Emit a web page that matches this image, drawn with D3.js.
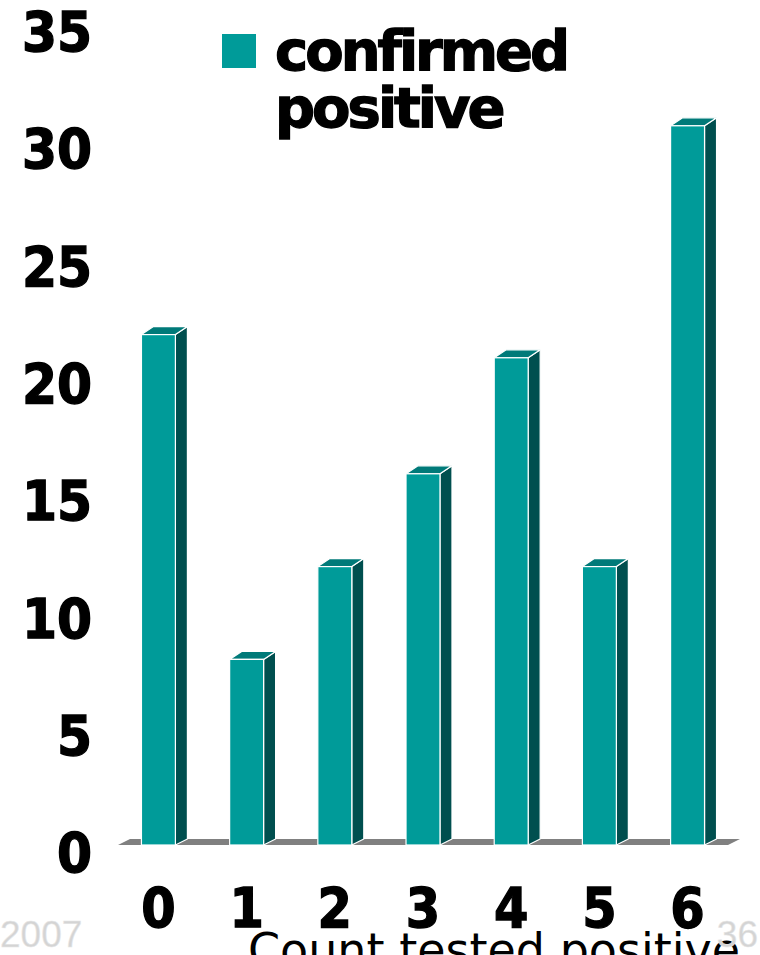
<!DOCTYPE html>
<html>
<head>
<meta charset="utf-8">
<script src="https://cdn.jsdelivr.net/npm/d3@7"></script>
<style>
  html, body { margin: 0; padding: 0; background: #fff; }
  svg { display: block; }
  .tick-label {
    font-family: "DejaVu Sans Condensed", "DejaVu Sans", Verdana, sans-serif;
    font-stretch: condensed;
    font-weight: bold;
    fill: #000;
    stroke: #000;
    stroke-width: 1.3;
  }
  .legend-label {
    font-family: "DejaVu Sans", Verdana, sans-serif;
    font-weight: bold;
    letter-spacing: -3px;
    fill: #000;
    stroke: #000;
    stroke-width: 1.3;
  }
</style>
</head>
<body>
<div id="chart"></div>
<script>
  // data
  const categories = ["0", "1", "2", "3", "4", "5", "6"];
  const confirmedPositive = [22, 8, 12, 16, 21, 12, 31];
  const yTicks = [0, 5, 10, 15, 20, 25, 30, 35];
  const seriesName = ["confirmed", "positive"];
  const axisTitle = "Count tested positive";

  const W = 760, H = 955;
  const depth = { dx: 12, dy: 8 };
  const base = 845;

  const svg = d3.select("#chart").append("svg")
    .attr("width", W)
    .attr("height", H);

  // front plane of the bars
  const x = d3.scaleBand()
    .domain(categories)
    .range([115, 731])
    .paddingInner(0.615)
    .paddingOuter(0.3);

  const y = d3.scaleLinear().domain([0, 35]).range([base, 33]);
  // labels sit on the back wall, a little off the front plane
  const yLabel = d3.scaleLinear().domain([0, 35]).range([852, 31]);

  // floor
  const fx0 = 118, fx1 = 728;
  svg.append("path")
    .attr("d", `M${fx0},${base} L${fx0 + depth.dx},${base - 6} L${fx1 + depth.dx},${base - 6} L${fx1},${base} Z`)
    .attr("fill", "#808080");

  // bars: side, top, front
  const bars = svg.append("g").selectAll("g")
    .data(categories.map((c, i) => ({ cat: c, v: confirmedPositive[i] })))
    .join("g");

  const bw = x.bandwidth();

  bars.append("path")
    .attr("d", (d) => {
      const x0 = x(d.cat) + bw, yt = y(d.v);
      return `M${x0},${yt} L${x0 + depth.dx},${yt - depth.dy} L${x0 + depth.dx},${base - 6} L${x0},${base} Z`;
    })
    .attr("fill", "#004f4f")
    .attr("stroke", "#fff")
    .attr("stroke-width", 1.2)
    .attr("stroke-linejoin", "round");

  bars.append("path")
    .attr("d", (d) => {
      const x0 = x(d.cat), yt = y(d.v);
      return `M${x0},${yt} L${x0 + depth.dx},${yt - depth.dy} L${x0 + bw + depth.dx},${yt - depth.dy} L${x0 + bw},${yt} Z`;
    })
    .attr("fill", "#007a79")
    .attr("stroke", "#fff")
    .attr("stroke-width", 1.2)
    .attr("stroke-linejoin", "round");

  bars.append("rect")
    .attr("x", (d) => x(d.cat))
    .attr("y", (d) => y(d.v))
    .attr("width", bw)
    .attr("height", (d) => base - y(d.v))
    .attr("fill", "#009b99")
    .attr("stroke", "#fff")
    .attr("stroke-width", 1.2);

  // y tick labels
  svg.append("g").selectAll("text")
    .data(yTicks)
    .join("text")
    .attr("class", "tick-label")
    .attr("x", 92)
    .attr("y", (d) => yLabel(d))
    .attr("dy", "0.36em")
    .attr("text-anchor", "end")
    .attr("font-size", 56)
    .text((d) => d);

  // x category labels
  svg.append("g").selectAll("text")
    .data(categories)
    .join("text")
    .attr("class", "tick-label")
    .attr("x", (d) => x(d) + bw / 2)
    .attr("y", 927)
    .attr("text-anchor", "middle")
    .attr("font-size", 55)
    .text((d) => d);

  // axis title, cut off by the page bottom
  svg.append("text")
    .attr("x", 494)
    .attr("y", 966)
    .attr("text-anchor", "middle")
    .attr("font-family", "DejaVu Sans, Verdana, sans-serif")
    .attr("font-size", 46)
    .attr("fill", "#000")
    .text(axisTitle);

  // legend
  const legend = svg.append("g").attr("transform", "translate(222,34)");
  legend.append("rect")
    .attr("width", 34)
    .attr("height", 34)
    .attr("fill", "#009b99");
  legend.selectAll("text")
    .data(seriesName)
    .join("text")
    .attr("class", "legend-label")
    .attr("x", 53)
    .attr("y", (d, i) => 36 + i * 57)
    .attr("font-size", 56)
    .text((d) => d);

  // slide footer text
  const footer = [
    { t: "2007", x: 0, anchor: "start" },
    { t: "36", x: 758, anchor: "end" },
  ];
  svg.append("g").selectAll("text")
    .data(footer)
    .join("text")
    .attr("x", (d) => d.x)
    .attr("y", 947)
    .attr("text-anchor", (d) => d.anchor)
    .attr("font-family", "Liberation Sans, Arial, sans-serif")
    .attr("font-size", 37)
    .attr("fill", "#d4d4d4")
    .attr("stroke", "#e8e8e8")
    .attr("stroke-width", 0.5)
    .text((d) => d.t);
</script>
</body>
</html>
